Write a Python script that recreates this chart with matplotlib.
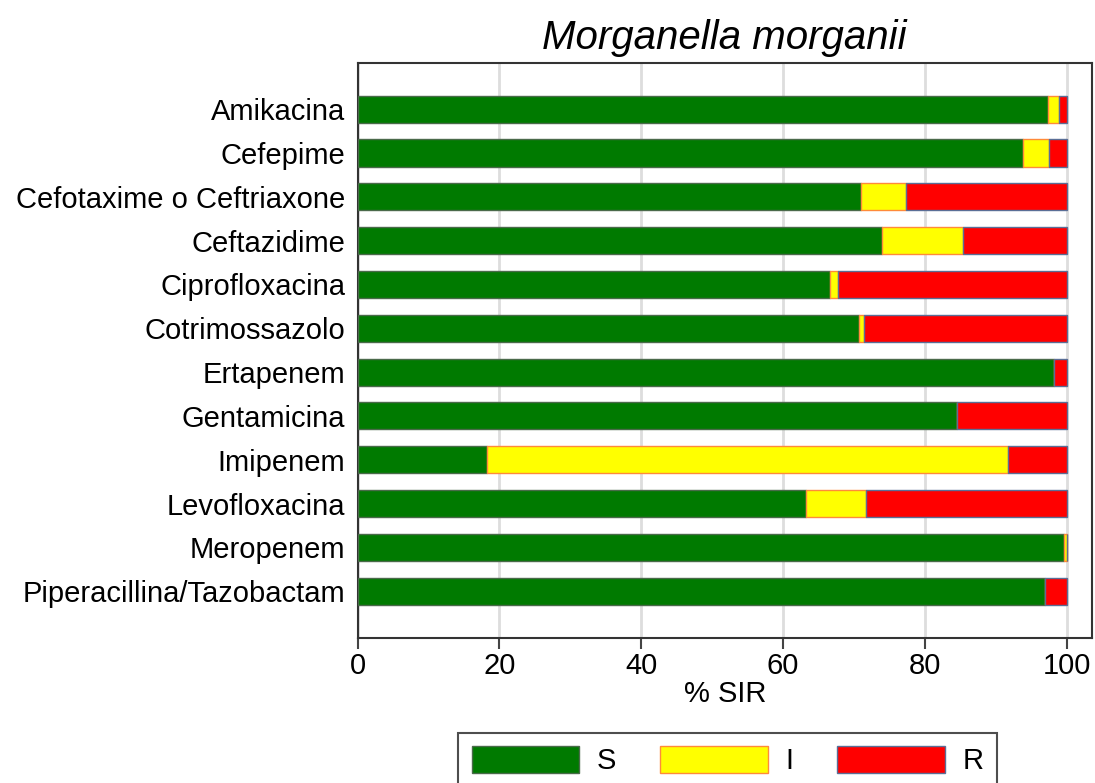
import numpy as np
import matplotlib
matplotlib.use("Agg")
import matplotlib.pyplot as plt

plt.rcParams['font.family'] = ['Liberation Sans', 'DejaVu Sans']

drugs = ["Amikacina", "Cefepime", "Cefotaxime o Ceftriaxone", "Ceftazidime",
         "Ciprofloxacina", "Cotrimossazolo", "Ertapenem", "Gentamicina",
         "Imipenem", "Levofloxacina", "Meropenem", "Piperacillina/Tazobactam"]

pctS = [97.4, 93.8, 71.0, 74.0, 66.6, 70.8, 98.3, 84.6, 18.2, 63.2, 99.7, 97.0]
pctI = [1.6, 3.7, 6.4, 11.4, 1.2, 0.6, 0.0, 0.0, 73.6, 8.5, 0.3, 0.0]
pctR = [100 - s - i for s, i in zip(pctS, pctI)]

colS, colI, colR = "#007a00", "#ffff00", "#ff0000"
edgeS, edgeI, edgeR = "#4a6a4a", "#ff8a3a", "#5a6e96"

fig = plt.figure(figsize=(10.95, 7.83), dpi=100)
ax = fig.add_axes([0.3265, 0.1852, 0.6708, 0.7343])

y = np.arange(len(drugs))
S = np.array(pctS)
I = np.array(pctI)
R = np.array(pctR)
h = 0.62

ax.barh(y, S, height=h, color=colS, edgecolor=edgeS, linewidth=1, label="S", zorder=3)
ax.barh(y, I, left=S, height=h, color=colI, edgecolor=edgeI, linewidth=1, label="I", zorder=3)
ax.barh(y, R, left=S + I, height=h, color=colR, edgecolor=edgeR, linewidth=1, label="R", zorder=3)

ax.set_xlim(0, 103.6)
ax.set_ylim(len(drugs) - 1 + 1.07, -1.055)
ax.set_yticks(y)
ax.set_yticklabels(drugs)
ax.set_xticks([0, 20, 40, 60, 80, 100])
ax.tick_params(axis='y', length=0, labelsize=21, pad=9)
ax.tick_params(axis='x', length=8, width=1.5, color="#444444", labelsize=21, pad=2)
ax.grid(axis='x', color="#dddddd", linewidth=2, zorder=0)
for sp in ax.spines.values():
    sp.set_color("#333333")
    sp.set_linewidth(1.5)

ax.set_xlabel("% SIR", fontsize=21, labelpad=0)
ax.set_title("Morganella morganii", fontsize=29, style='italic', pad=10)

leg = fig.legend(loc='upper center', bbox_to_anchor=(0.6645, 0.064), ncol=3,
                 fontsize=21, frameon=True, fancybox=False, edgecolor="#222222",
                 handlelength=3.7, handleheight=1.05, handletextpad=0.6,
                 columnspacing=1.5, borderpad=0.45, borderaxespad=0)
leg.get_frame().set_linewidth(1.5)

fig.savefig("out.png", dpi=100)
